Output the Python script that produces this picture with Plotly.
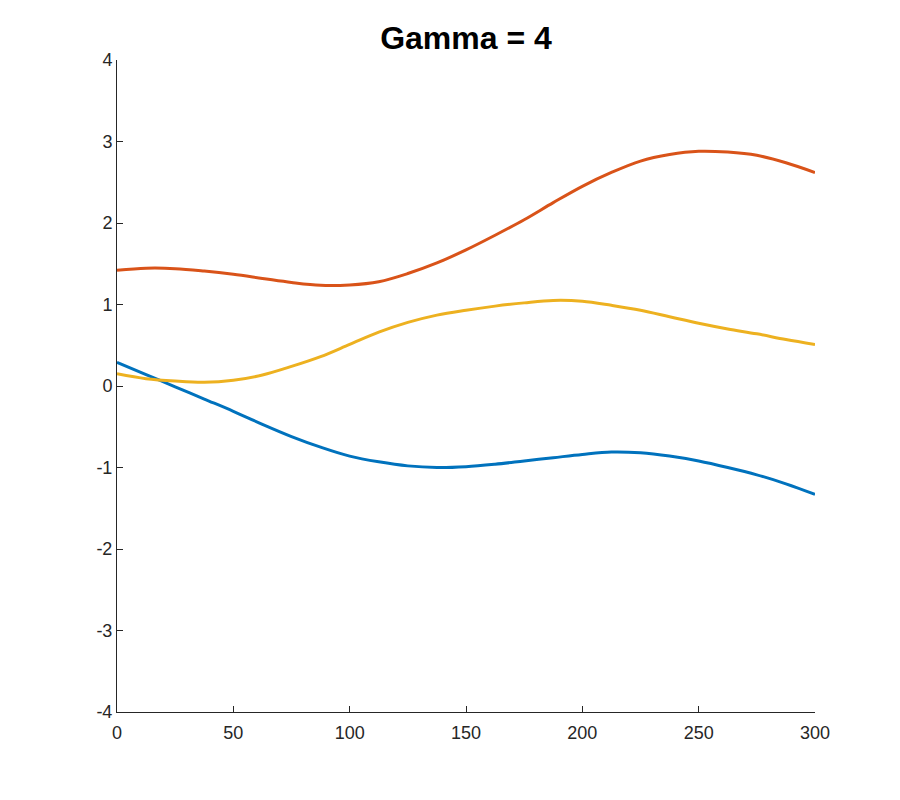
import plotly.graph_objects as go

x_vals = [0, 12.5, 25, 37.5, 50, 62.5, 75, 87.5, 100, 112.5, 125, 137.5, 150,
          162.5, 175, 187.5, 200, 212.5, 225, 237.5, 250, 262.5, 275, 287.5, 300]
blue = [0.29, 0.14, -0.01, -0.16, -0.31, -0.47, -0.62, -0.75, -0.86, -0.93, -0.98, -1.00, -0.99,
        -0.96, -0.92, -0.88, -0.84, -0.81, -0.82, -0.86, -0.92, -1.00, -1.09, -1.20, -1.33]
orange = [1.42, 1.445, 1.44, 1.41, 1.37, 1.32, 1.27, 1.235, 1.24, 1.28, 1.38, 1.51, 1.67,
          1.85, 2.04, 2.25, 2.45, 2.62, 2.76, 2.84, 2.88, 2.87, 2.83, 2.74, 2.62]
yellow = [0.15, 0.09, 0.06, 0.045, 0.07, 0.135, 0.24, 0.36, 0.51, 0.66, 0.78, 0.87, 0.93,
          0.98, 1.02, 1.05, 1.04, 0.99, 0.93, 0.85, 0.77, 0.70, 0.64, 0.57, 0.51]

series = [("blue", blue, "#0072BD"), ("orange", orange, "#D95319"), ("yellow", yellow, "#EDB120")]

xticks = [0, 50, 100, 150, 200, 250, 300]
yticks = [-4, -3, -2, -1, 0, 1, 2, 3, 4]
yticktext = [str(v) for v in yticks]

fig = go.Figure()
for name, ys, col in series:
    fig.add_trace(go.Scatter(x=x_vals, y=ys, mode="lines", name=name,
                             line=dict(color=col, width=3, shape="spline", smoothing=1.0)))

fig.update_layout(
    width=900, height=800,
    paper_bgcolor="white", plot_bgcolor="white",
    margin=dict(l=109, r=93, t=52, b=96),
    showlegend=False,
    font=dict(family="Liberation Sans, Arial, sans-serif", size=18, color="#262626"),
    title=dict(text="<b>Gamma = 4</b>", x=458/900, xanchor="center", y=1-30/800, yanchor="middle",
               font=dict(size=32, color="black", family="Liberation Sans, Arial, sans-serif")),
)
fig.update_xaxes(range=[0, 300], tickvals=xticks, ticks="inside", ticklen=6, tickcolor="#262626",
                 showline=True, linecolor="#262626", linewidth=1, showgrid=False, zeroline=False,
                 tickfont=dict(size=18), ticklabelstandoff=4)
fig.update_yaxes(range=[-4, 4], tickvals=yticks, ticktext=yticktext, ticks="inside", ticklen=6,
                 tickcolor="#262626", showline=True, linecolor="#262626", linewidth=1,
                 showgrid=False, zeroline=False, tickfont=dict(size=18))

fig.write_html("out.html")
